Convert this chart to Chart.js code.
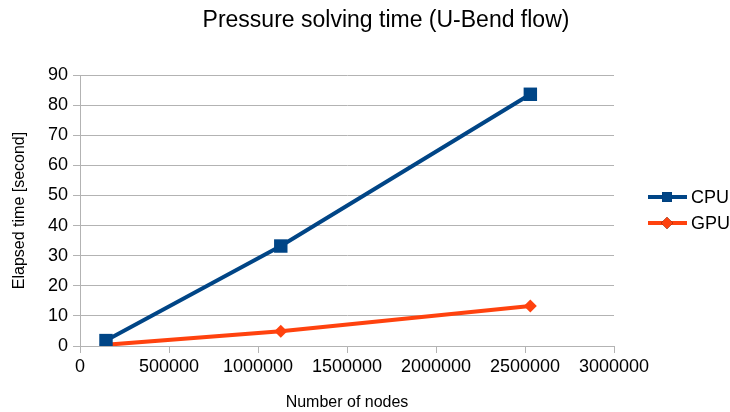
<!DOCTYPE html>
<html>
<head>
<meta charset="utf-8">
<script src="https://cdn.jsdelivr.net/npm/chart.js@4.4.1/dist/chart.umd.min.js"></script>
<style>
  html, body { margin: 0; padding: 0; background: #fff; }
  #wrap { width: 730px; height: 412px; }
</style>
</head>
<body>
<div id="wrap"><canvas id="solveChart" width="730" height="412"></canvas></div>
<script>
// Data
var nodes = [146000, 1128000, 2530000];
var cpuTime = [1.8, 33.2, 83.6];
var gpuTime = [0.4, 4.9, 13.3];
var seriesNames = ['CPU', 'GPU'];
var chartTitle = 'Pressure solving time (U-Bend flow)';
var xTitle = 'Number of nodes';
var yTitle = 'Elapsed time [second]';

var FONT = '"Liberation Sans", Arial, sans-serif';

function toPoints(xs, ys) {
    return xs.map(function (x, i) { return { x: x, y: ys[i] }; });
}

// Title and legend drawn by hand (line + marker, like the office chart)
var decor = {
    id: 'decor',
    afterDraw: function (chart) {
        var ctx = chart.ctx;
        ctx.save();
        ctx.fillStyle = '#000';
        ctx.font = '23px ' + FONT;
        ctx.textAlign = 'center';
        ctx.textBaseline = 'middle';
        ctx.fillText(chartTitle, 386, 21);

        var y0 = 197;
        chart.data.datasets.forEach(function (ds, i) {
            var y = y0 + i * 26;
            ctx.strokeStyle = ds.borderColor;
            ctx.lineWidth = 4;
            ctx.beginPath();
            ctx.moveTo(648, y);
            ctx.lineTo(687, y);
            ctx.stroke();
            Chart.helpers.drawPoint(ctx, {
                pointStyle: ds.pointStyle,
                radius: ds.pointStyle === 'rect' ? 7 : 6,
                borderWidth: 0
            }, 667, y);
            ctx.fillStyle = ds.borderColor;
            ctx.fill();
            ctx.fillStyle = '#000';
            ctx.font = '18px ' + FONT;
            ctx.textAlign = 'left';
            ctx.fillText(ds.label, 691, y + 1);
        });
        ctx.restore();
    }
};

var ctx = document.getElementById('solveChart');
var myChart = new Chart(ctx, {
    type: 'scatter',
    data: {
        datasets: [{
            label: seriesNames[0],
            data: toPoints(nodes, cpuTime),
            showLine: true,
            borderColor: '#004586',
            backgroundColor: '#004586',
            borderWidth: 4,
            pointStyle: 'rect',
            pointRadius: 9.5,
            pointHoverRadius: 9.5,
            pointBorderWidth: 0
        }, {
            label: seriesNames[1],
            data: toPoints(nodes, gpuTime),
            showLine: true,
            borderColor: '#ff420e',
            backgroundColor: '#ff420e',
            borderWidth: 4,
            pointStyle: 'rectRot',
            pointRadius: 6.5,
            pointHoverRadius: 6.5,
            pointBorderWidth: 0
        }]
    },
    options: {
        responsive: false,
        animation: false,
        layout: {
            padding: { left: 0, right: 116, top: 75, bottom: 0 }
        },
        scales: {
            x: {
                type: 'linear',
                min: 0,
                max: 3000000,
                ticks: {
                    stepSize: 500000,
                    color: '#000',
                    font: { family: FONT, size: 18 },
                    padding: 3,
                    maxRotation: 0,
                    callback: function (v) { return String(v); }
                },
                grid: {
                    display: true,
                    drawOnChartArea: false,
                    color: '#b3b3b3',
                    tickLength: 7
                },
                border: { color: '#b3b3b3' },
                title: {
                    display: true,
                    text: xTitle,
                    color: '#000',
                    font: { family: FONT, size: 16 },
                    padding: { top: 0, bottom: 0 }
                },
                afterFit: function (scale) { scale.height = 66; }
            },
            y: {
                min: 0,
                max: 90,
                ticks: {
                    stepSize: 10,
                    color: '#000',
                    font: { family: FONT, size: 18 },
                    padding: 5
                },
                grid: {
                    color: '#b3b3b3',
                    tickLength: 7
                },
                border: { color: '#b3b3b3' },
                title: {
                    display: true,
                    text: yTitle,
                    color: '#000',
                    font: { family: FONT, size: 16 },
                    padding: { top: 10, bottom: 0 }
                },
                afterFit: function (scale) { scale.width = 80; }
            }
        },
        plugins: {
            legend: { display: false },
            tooltip: { enabled: false }
        }
    },
    plugins: [decor]
});
</script>
</body>
</html>
